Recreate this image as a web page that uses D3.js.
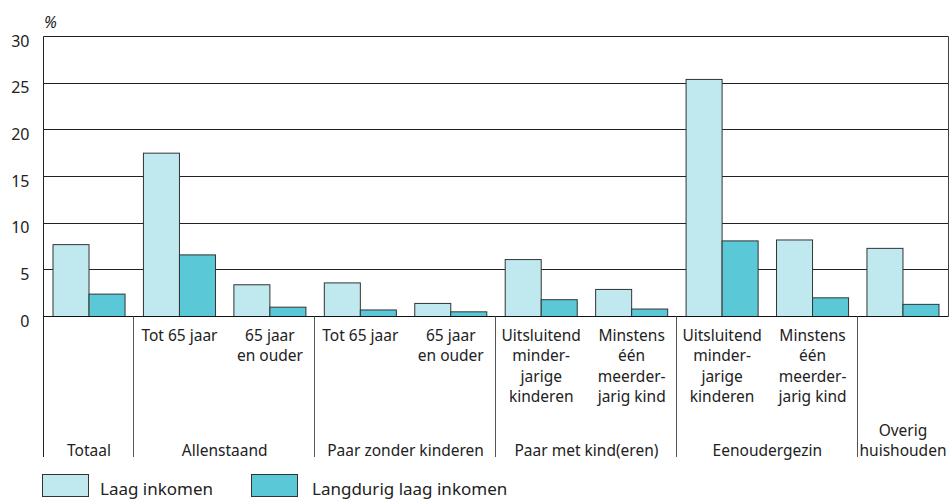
<!DOCTYPE html>
<html>
<head>
<meta charset="utf-8">
<title>Laag inkomen naar huishoudtype</title>
<script src="https://cdn.jsdelivr.net/npm/d3@7/dist/d3.min.js"></script>
<style>
  body { margin: 0; background: #fff; }
  svg text { font-family: "Noto Sans", sans-serif; fill: #222; }
  .sub { font-size: 15.5px; }
  .grp { font-size: 15.5px; }
  .ytick text { font-size: 16px; }
  .legend text { font-size: 17px; }
</style>
</head>
<body>
<div id="chart"></div>
<script>
// data
var series = ['Laag inkomen', 'Langdurig laag inkomen'];
var colors = ['#c0e9ef', '#5bc8d8'];
var laag      = [7.7, 17.5, 3.4, 3.6, 1.4, 6.1, 2.9, 25.4, 8.2, 7.3];
var langdurig = [2.4, 6.6, 1.0, 0.7, 0.5, 1.8, 0.8, 8.1, 2.0, 1.3];
var subLabels = [
  [],
  ['Tot 65 jaar'],
  ['65 jaar', 'en ouder'],
  ['Tot 65 jaar'],
  ['65 jaar', 'en ouder'],
  ['Uitsluitend', 'minder-', 'jarige', 'kinderen'],
  ['Minstens', 'één', 'meerder-', 'jarig kind'],
  ['Uitsluitend', 'minder-', 'jarige', 'kinderen'],
  ['Minstens', 'één', 'meerder-', 'jarig kind'],
  []
];
var groupLabels = [['Totaal'], ['Allenstaand'], ['Paar zonder kinderen'], ['Paar met kind(eren)'], ['Eenoudergezin'], ['Overig', 'huishouden']];
var groupStart = [0, 1, 3, 5, 7, 9];
var groupEnd   = [0, 2, 4, 6, 8, 9];
var yTicks = [0, 5, 10, 15, 20, 25, 30];

var W = 949, H = 501;
var pl = 43.5, pr = 948.5, pt = 36.5, base = 316.5, pb = 457;

var svg = d3.select('#chart').append('svg').attr('width', W).attr('height', H);

var idx = d3.range(laag.length);
var x = d3.scaleBand().domain(idx).range([43.8, 948.2]);
var xs = d3.scaleBand().domain([0, 1]).range([9.2, x.bandwidth() - 9.2]);
var y = d3.scaleLinear().domain([0, 30]).range([base, pt]);

// gridlines
svg.append('g').selectAll('line').data(yTicks.filter(function(d){ return d > 0; }))
  .enter().append('line')
  .attr('x1', pl).attr('x2', pr)
  .attr('y1', function(d){ return Math.round(y(d) - 0.5) + 0.5; })
  .attr('y2', function(d){ return Math.round(y(d) - 0.5) + 0.5; })
  .attr('stroke', '#222').attr('stroke-width', 1);

// y tick labels
var yAxis = svg.append('g').attr('class', 'ytick')
  .attr('transform', 'translate(' + pl + ',0)')
  .call(d3.axisLeft(y).tickValues(yTicks).tickSize(0).tickPadding(14));
yAxis.select('.domain').remove();
yAxis.selectAll('text').attr('dy', '0.6em').attr('fill', '#222');

svg.append('text').attr('x', 44).attr('y', 28)
  .style('font-size', '16px').style('font-style', 'italic').text('%');

// bars
var vals = [laag, langdurig];
var cat = svg.append('g').selectAll('g').data(idx).enter().append('g')
  .attr('transform', function(i){ return 'translate(' + x(i) + ',0)'; });
cat.selectAll('rect').data(function(i){ return [0, 1].map(function(s){ return {s: s, v: vals[s][i]}; }); })
  .enter().append('rect')
  .attr('x', function(d){ return xs(d.s); })
  .attr('width', xs.bandwidth())
  .attr('y', function(d){ return y(d.v); })
  .attr('height', function(d){ return y(0) - y(d.v); })
  .attr('fill', function(d){ return colors[d.s]; })
  .attr('stroke', '#333').attr('stroke-width', 1);

// frame
svg.append('line').attr('x1', pl).attr('x2', pl).attr('y1', pt).attr('y2', pb).attr('stroke', '#222');
svg.append('line').attr('x1', pr).attr('x2', pr).attr('y1', pt).attr('y2', base).attr('stroke', '#444');
svg.append('line').attr('x1', pl).attr('x2', pr).attr('y1', base).attr('y2', base).attr('stroke', '#111');

// group separators
svg.append('g').selectAll('line').data(groupStart.slice(1)).enter().append('line')
  .attr('x1', function(i){ return Math.round(x(i)) - 0.5; })
  .attr('x2', function(i){ return Math.round(x(i)) - 0.5; })
  .attr('y1', base).attr('y2', pb)
  .attr('stroke', '#555').attr('stroke-width', 1);

// sub labels
cat.each(function(i){
  d3.select(this).selectAll('text.sub').data(subLabels[i]).enter().append('text')
    .attr('class', 'sub')
    .attr('x', x.bandwidth() / 2)
    .attr('y', function(d, k){ return 341 + k * 20.3; })
    .attr('text-anchor', 'middle')
    .text(function(d){ return d; });
});

// group labels
var g = svg.append('g').selectAll('g').data(groupLabels).enter().append('g');
g.each(function(lines, gi){
  var cx = (x(groupStart[gi]) + x(groupEnd[gi]) + x.bandwidth()) / 2;
  d3.select(this).selectAll('text').data(lines).enter().append('text')
    .attr('class', 'grp')
    .attr('x', cx)
    .attr('y', function(d, k){ return 456 - (lines.length - 1 - k) * 20.3; })
    .attr('text-anchor', 'middle')
    .text(function(d){ return d; });
});

// legend
var legX = [42.5, 251.5], legTx = [100, 312];
var leg = svg.append('g').attr('class', 'legend').selectAll('g').data(series).enter().append('g');
leg.append('rect')
  .attr('x', function(d, i){ return legX[i]; }).attr('y', 474.5)
  .attr('width', 46).attr('height', 22)
  .attr('fill', function(d, i){ return colors[i]; })
  .attr('stroke', '#333');
leg.append('text')
  .attr('x', function(d, i){ return legTx[i]; }).attr('y', 495)
  .text(function(d){ return d; });
</script>
</body>
</html>
